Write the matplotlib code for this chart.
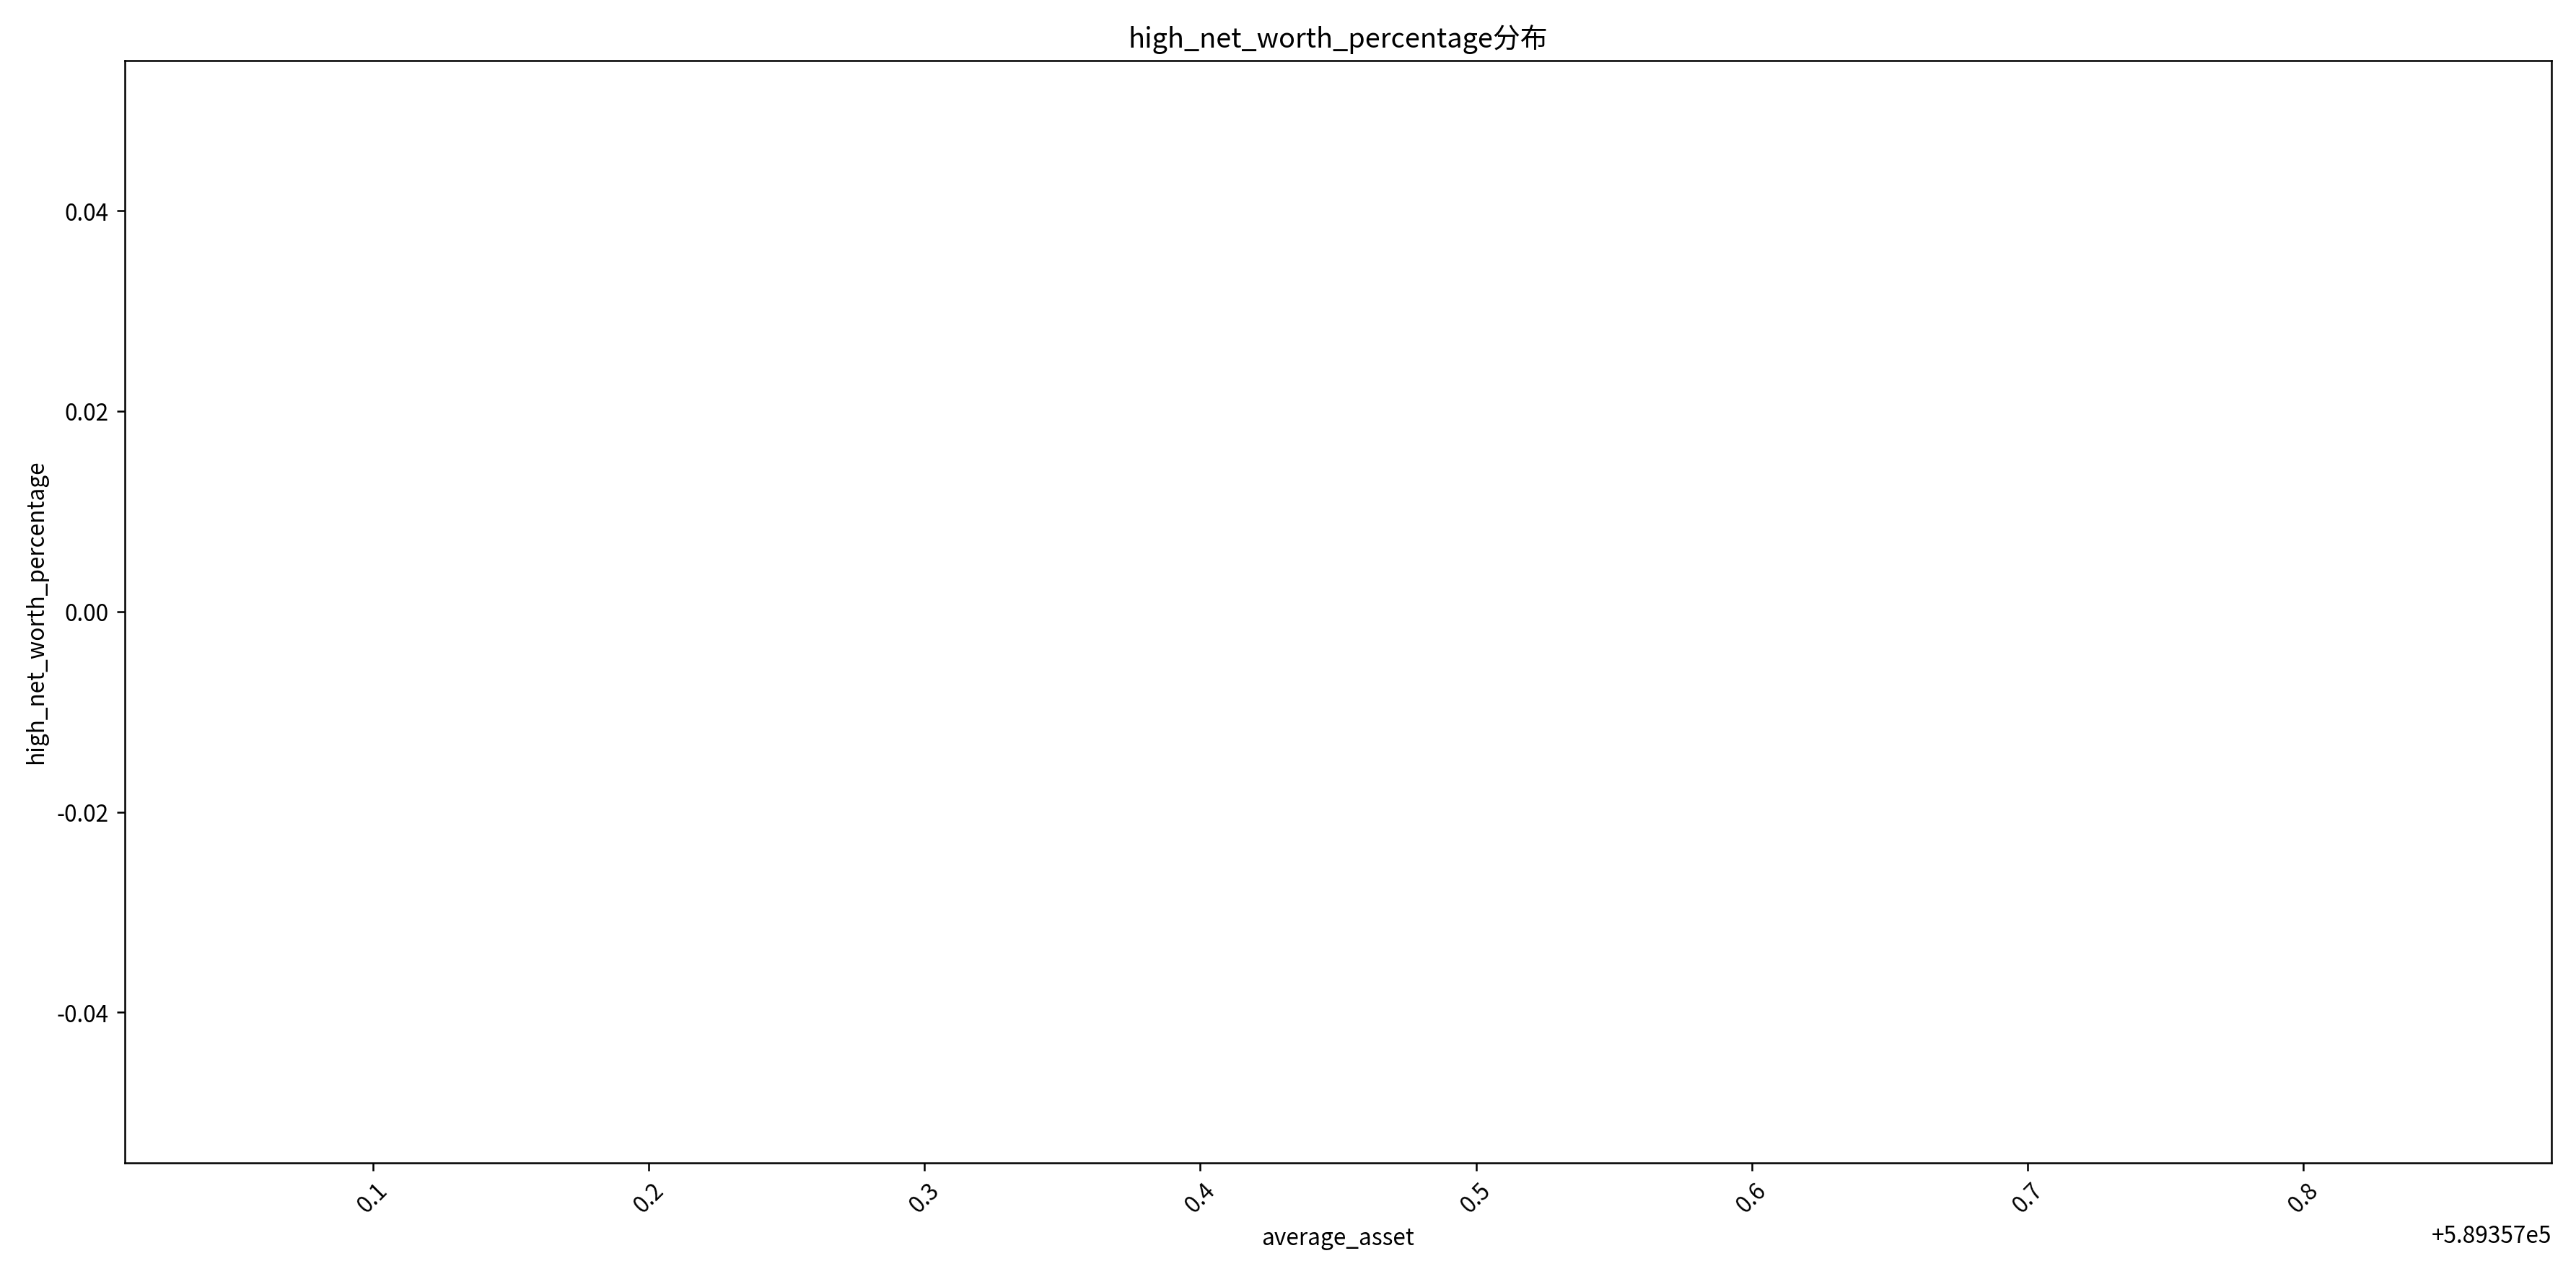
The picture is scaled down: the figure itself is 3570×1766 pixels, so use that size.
import matplotlib
matplotlib.use("Agg")
import matplotlib.pyplot as plt

plt.rcParams['font.family'] = ['Noto Sans CJK SC', 'DejaVu Sans']
plt.rcParams['axes.unicode_minus'] = False

average_asset = [589357.45]
high_net_worth_percentage = [0.0]

fig, ax = plt.subplots(figsize=(15.7, 7.77), dpi=227.4)
ax.bar(average_asset, high_net_worth_percentage, width=0.8)
ax.set_title('high_net_worth_percentage分布')
ax.set_xlabel('average_asset')
ax.set_ylabel('high_net_worth_percentage')
plt.xticks(rotation=45)
fig.tight_layout()
fig.savefig('out.png')
